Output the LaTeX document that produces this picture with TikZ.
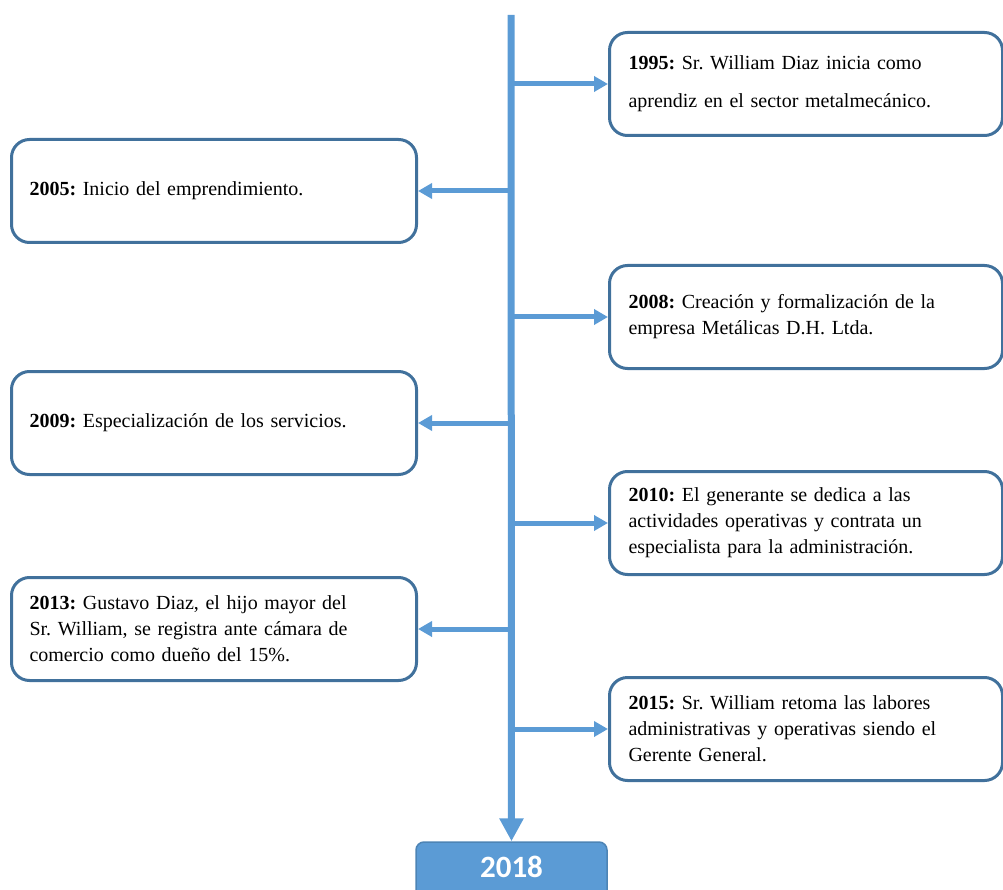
\documentclass[tikz,border=0pt]{standalone}
\usepackage{fontspec}
\setmainfont{Liberation Serif}
\newfontfamily\yearfont{Carlito}
\usetikzlibrary{arrows.meta}
\definecolor{lineblue}{HTML}{5B9BD5}
\definecolor{boxblue}{HTML}{41719C}
\frenchspacing

\begin{document}
\begin{tikzpicture}[x=1pt, y=-1pt,
	event/.style={draw=boxblue, line width=3pt, rounded corners=18pt, minimum height=103pt, inner ysep=0pt, anchor=west, align=left, font=\fontsize{20}{26}\selectfont},
	leftbox/.style={event, text width=369pt, inner xsep=18pt},
	rightbox/.style={event, text width=355pt, inner xsep=19pt},
	branch/.style={draw=lineblue, line width=5pt, -{Triangle[length=14pt, width=15pt]}, lineblue},
	spine/.style={draw=lineblue, line width=7pt, -{Triangle[length=23pt, width=23pt]}, lineblue},
	yearbox/.style={fill=lineblue, draw=lineblue!85!black, line width=1.5pt, rounded corners=8pt, minimum width=191pt, minimum height=60pt, text=white, text height=20pt, text depth=10pt, font=\yearfont\bfseries\fontsize{31}{32}\selectfont}]
	\useasboundingbox (0,0) rectangle (1003,890);
	\clip (0,0) rectangle (1003,890);

	\coordinate (top) at (511,15);
	\node[yearbox] (y2018) at (511.5,872) {2018};

	\node[rightbox, font=\fontsize{20}{38}\selectfont] (b1995) at (608,84) {\textbf{1995:} Sr. William Diaz inicia como\\ aprendiz en el sector metalmecánico.};
	\node[leftbox] (b2005) at (10,191) {\textbf{2005:} Inicio del emprendimiento.};
	\node[rightbox] (b2008) at (608,317) {\textbf{2008:} Creación y formalización de la\\ empresa Metálicas D.H. Ltda.};
	\node[leftbox] (b2009) at (10,423) {\textbf{2009:} Especialización de los servicios.};
	\node[rightbox] (b2010) at (608,523) {\textbf{2010:} El generante se dedica a las\\ actividades operativas y contrata un\\ especialista para la administración.};
	\node[leftbox] (b2013) at (10,629) {\textbf{2013:} Gustavo Diaz, el hijo mayor del\\ Sr. William, se registra ante cámara de\\ comercio como dueño del 15\%.};
	\node[rightbox] (b2015) at (608,729) {\textbf{2015:} Sr. William retoma las labores\\ administrativas y operativas siendo el\\ Gerente General.};

	\draw[spine] (top) -- (y2018.north);

	\foreach \n in {b1995, b2008, b2010, b2015}
		\draw[branch] (top |- \n.west) -- (\n.west);
	\foreach \n in {b2005, b2009, b2013}
		\draw[branch] (top |- \n.east) -- (\n.east);
\end{tikzpicture}
\end{document}
